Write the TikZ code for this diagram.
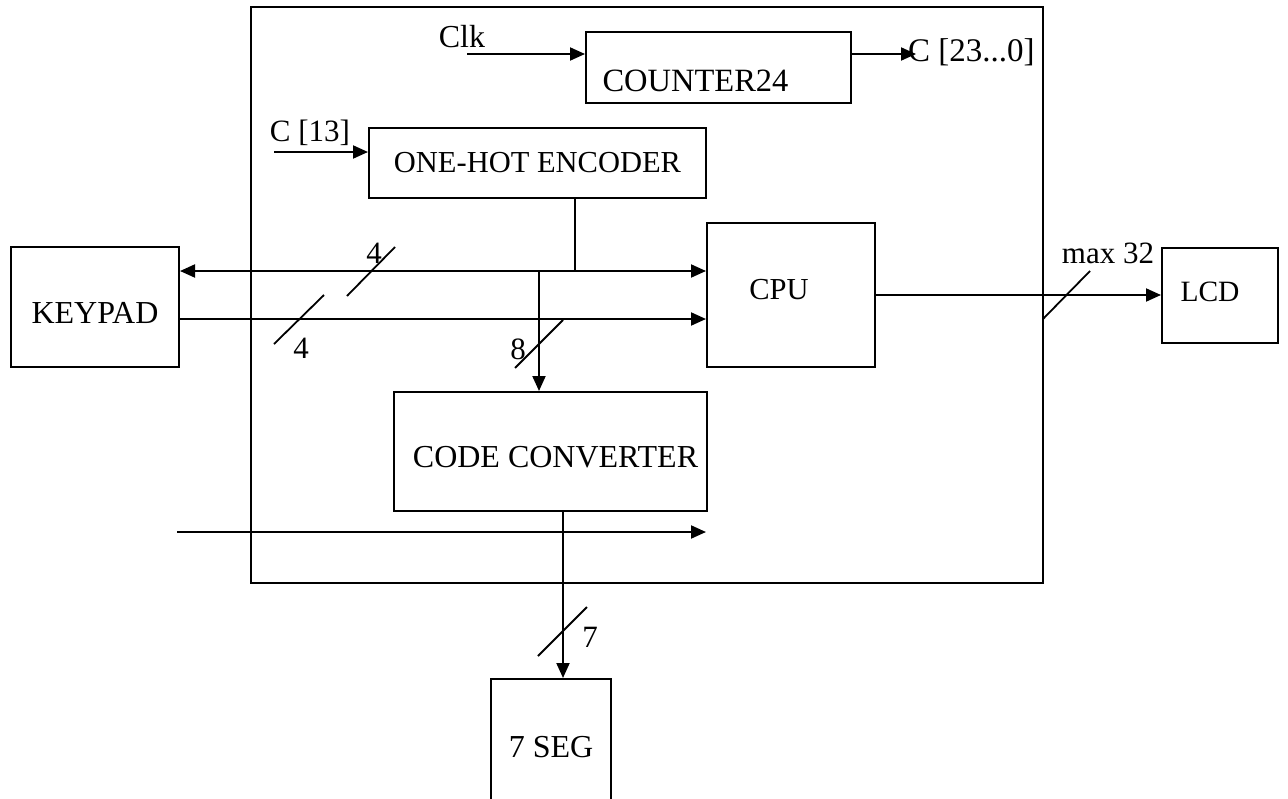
\documentclass[tikz,border=0pt]{standalone}
\usepackage{fontspec}
\setmainfont{Liberation Serif}
\usetikzlibrary{arrows.meta}
\begin{document}
\begin{tikzpicture}[x=1pt,y=-1pt,
  wire/.style={line width=2pt},
  sig/.style={wire, -{Triangle[length=15pt,width=13pt]}},
  bisig/.style={wire, {Triangle[length=15pt,width=13pt]}-{Triangle[length=15pt,width=13pt]}},
  blk/.style={draw, line width=2pt, rectangle, inner sep=0pt},
  tick/.style={line width=1.8pt},
  lbl/.style={inner sep=0pt, font=\fontsize{#1}{36}\selectfont},
  lbl/.default=30,
]
\useasboundingbox (0,0) rectangle (1288,798);
\clip (0,0) rectangle (1288,798);

% enclosing board
\node[blk, minimum width=792pt, minimum height=576pt] (board) at (647,295) {};

% functional blocks
\node[blk, minimum width=265pt, minimum height=71pt,
      label={[lbl=32.5, xshift=-23pt, yshift=-13pt]center:COUNTER24}] (counter) at (718.5,67.5) {};
\node[blk, minimum width=337pt, minimum height=70pt,
      label={[lbl=30.5]center:ONE-HOT ENCODER}] (encoder) at (537.5,163) {};
\node[blk, minimum width=168pt, minimum height=120pt,
      label={[lbl=32, yshift=-6pt]center:KEYPAD}] (keypad) at (95,307) {};
\node[blk, minimum width=168pt, minimum height=144pt,
      label={[lbl=30.5, xshift=-12pt, yshift=5pt]center:CPU}] (cpu) at (791,295) {};
\node[blk, minimum width=116pt, minimum height=95pt,
      label={[lbl=29.5, xshift=-10pt, yshift=3pt]center:LCD}] (lcd) at (1220,295) {};
\node[blk, minimum width=313pt, minimum height=119pt,
      label={[lbl=32, xshift=5pt, yshift=-6pt]center:CODE CONVERTER}] (conv) at (550.5,451.5) {};
\node[blk, minimum width=120pt, minimum height=140pt,
      label={[lbl=32, yshift=2pt]center:7 SEG}] (seg) at (551,749) {};

% signal names
\node[lbl=32] (clk) at (462,37) {Clk};
\node[lbl=33, anchor=west] (cbus) at (908,52) {C [23...0]};
\node[lbl=31] (c13) at (310,133) {C [13]};
\node[lbl=31] (lcdw) at (1108,253) {max 32};
\node[lbl=31] (w4a) at (374,253) {4};
\node[lbl=31] (w4b) at (301,348) {4};
\node[lbl=31] (w8) at (518,349) {8};
\node[lbl=31] (w7) at (590,637) {7};

% free ends and junctions
\coordinate (clkin) at (467,54);
\coordinate (c13in) at (274,152);
\coordinate (j1) at (575,271);
\coordinate (j2) at (539,271);
\coordinate (kp2) at (179,319);
\coordinate (bl) at (177,532);
\coordinate (s7) at (563,511);

% connectors
\draw[sig] (clkin) -- (clkin -| counter.west);
\draw[sig] (counter.east |- clkin) -- ([xshift=8pt]cbus.west |- clkin);
\draw[sig] (c13in) -- (c13in -| encoder.west);
\draw[wire] (encoder.south -| j1) -- (j1);
\draw[bisig] (keypad.east |- j1) -- (cpu.west |- j1);
\draw[sig] (j2) -- (j2 |- conv.north);
\draw[sig] (kp2) -- (kp2 -| cpu.west);
\draw[sig] (cpu.east) -- (lcd.west);
\draw[sig] (bl) -- (bl -| cpu.west);
\draw[sig] (s7) -- (s7 |- seg.north);

% bus width ticks
\draw[tick] (347,296) -- (395,247);
\draw[tick] (274,344) -- (324,295);
\draw[tick] (515,368) -- (563,320);
\draw[tick] (1043,319) -- (1090,271);
\draw[tick] (538,656) -- (587,607);
\end{tikzpicture}
\end{document}
